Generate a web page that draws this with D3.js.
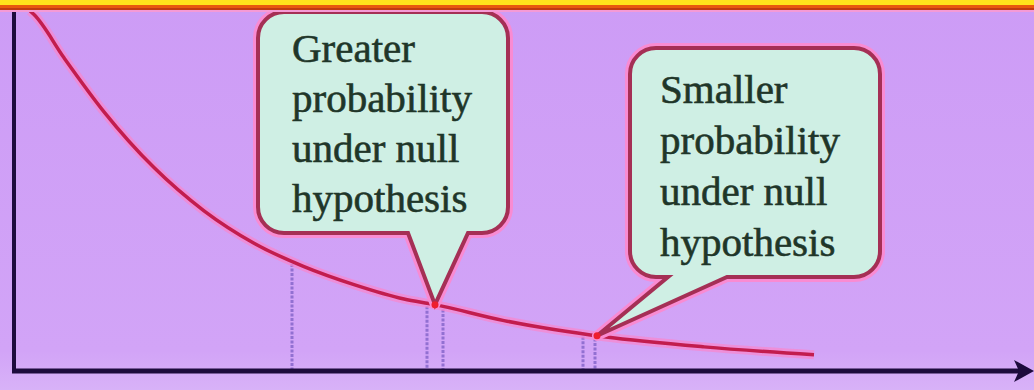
<!DOCTYPE html>
<html>
<head>
<meta charset="utf-8">
<script src="https://cdn.jsdelivr.net/npm/d3@7"></script>
<style>
  body { margin: 0; background: #cf9df5; }
  svg { display: block; }
</style>
</head>
<body>
<svg width="1034" height="390"></svg>
<script>
var svg = d3.select("svg"),
    width = +svg.attr("width"),
    height = +svg.attr("height");

// density curve (test statistic, density)
const curveX = [0.16, 0.2, 0.5, 0.9, 1.4, 1.9, 2.4, 2.9, 3.4, 3.9, 4.2, 4.9, 5.4, 5.9, 6.9, 8.0];
const curveY = [1.0, 0.99, 0.87, 0.72, 0.565, 0.445, 0.355, 0.29, 0.24, 0.2, 0.185, 0.14, 0.115, 0.095, 0.067, 0.045];

// observed values marked with dotted drop lines
const markerX = [2.78, 4.13, 4.29, 5.69, 5.81];

// callouts: where each one points on the x axis and its text
const calloutTipX = [4.21, 5.83];
const calloutLines = [
  ["Greater", "probability", "under null", "hypothesis"],
  ["Smaller", "probability", "under null", "hypothesis"]
];

let margin = { left: 14, top: 11, bottom: 19 };

var x = d3.scaleLinear()
    .domain([0, 10])
    .range([margin.left, margin.left + 1000]);

var y = d3.scaleLinear()
    .domain([0, 1])
    .range([height - margin.bottom, margin.top]);

var points = curveX.map((d, i) => [d, curveY[i]]);

// height of the curve at any x, straight between read points
function curveAt(v) {
  var i = d3.bisectRight(curveX, v);
  if (i <= 0) return curveY[0];
  if (i >= curveX.length) return curveY[curveY.length - 1];
  var t = (v - curveX[i - 1]) / (curveX[i] - curveX[i - 1]);
  return curveY[i - 1] + t * (curveY[i] - curveY[i - 1]);
}

// background, a little lighter under the axis
var defs = svg.append("defs");
var bg = defs.append("linearGradient")
    .attr("id", "bg")
    .attr("x1", 0).attr("y1", 0).attr("x2", 0).attr("y2", 1);
bg.append("stop").attr("offset", "0%").attr("stop-color", "#cd9cf6");
bg.append("stop").attr("offset", "90%").attr("stop-color", "#d2a4f7");
bg.append("stop").attr("offset", "100%").attr("stop-color", "#d8b2f8");

svg.append("rect")
    .attr("width", width)
    .attr("height", height)
    .attr("fill", "url(#bg)");

// dotted drop lines from the curve to the axis
svg.append("g")
    .selectAll("line")
    .data(markerX)
    .enter().append("line")
      .attr("x1", d => x(d))
      .attr("x2", d => x(d))
      .attr("y1", d => y(curveAt(d)) + 3)
      .attr("y2", y(0))
      .attr("stroke", "#9270d2")
      .attr("stroke-width", 3)
      .attr("stroke-dasharray", "3,1.5");

// the curve, pink glow under a crimson line
var line = d3.line()
    .x(d => x(d[0]))
    .y(d => y(d[1]))
    .curve(d3.curveMonotoneX);

svg.append("path")
    .datum(points)
    .attr("d", line)
    .attr("fill", "none")
    .attr("stroke", "#fa86cc")
    .attr("stroke-width", 9)
    .attr("stroke-opacity", 0.7);

svg.append("path")
    .datum(points)
    .attr("d", line)
    .attr("fill", "none")
    .attr("stroke", "#c21d4e")
    .attr("stroke-width", 3.5);

// axes
var axisColor = "#1d0b3d";
svg.append("line")
    .attr("x1", x(0)).attr("x2", x(0))
    .attr("y1", 8).attr("y2", y(0) + 2)
    .attr("stroke", axisColor)
    .attr("stroke-width", 4);

svg.append("line")
    .attr("x1", x(0) - 2).attr("x2", width - 8)
    .attr("y1", y(0)).attr("y2", y(0))
    .attr("stroke", axisColor)
    .attr("stroke-width", 5);

svg.append("path")
    .attr("d", "M" + (width - 20) + "," + (y(0) - 11) +
               "L" + width + "," + y(0) +
               "L" + (width - 20) + "," + (y(0) + 11) +
               "L" + (width - 15) + "," + y(0) + "Z")
    .attr("fill", axisColor);

// callouts
var boxes = [
  { x0: 258, y0: 12, x1: 508, y1: 233, b0: 408, b1: 468, tx: 292, lh: 50, base: 62 },
  { x0: 630, y0: 48, x1: 880, y1: 277, b0: 668, b1: 727, tx: 660, lh: 51, base: 103 }
];

function calloutPath(b, tipX, tipY) {
  var r = 26;
  return "M" + (b.x0 + r) + "," + b.y0 +
    "H" + (b.x1 - r) +
    "A" + r + "," + r + " 0 0 1 " + b.x1 + "," + (b.y0 + r) +
    "V" + (b.y1 - r) +
    "A" + r + "," + r + " 0 0 1 " + (b.x1 - r) + "," + b.y1 +
    "H" + b.b1 +
    "L" + tipX + "," + tipY +
    "L" + b.b0 + "," + b.y1 +
    "H" + (b.x0 + r) +
    "A" + r + "," + r + " 0 0 1 " + b.x0 + "," + (b.y1 - r) +
    "V" + (b.y0 + r) +
    "A" + r + "," + r + " 0 0 1 " + (b.x0 + r) + "," + b.y0 + "Z";
}

var callout = svg.append("g")
    .selectAll("g")
    .data(boxes)
    .enter().append("g");

callout.each(function(b, i) {
  var g = d3.select(this);
  var tipX = x(calloutTipX[i]),
      tipY = y(curveAt(calloutTipX[i]));
  var d = calloutPath(b, tipX, tipY);

  g.append("path").attr("d", d)
      .attr("fill", "none")
      .attr("stroke", "#f98bd2")
      .attr("stroke-width", 10)
      .attr("stroke-linejoin", "round");
  g.append("path").attr("d", d)
      .attr("fill", "#cfefe4")
      .attr("stroke", "#a52f55")
      .attr("stroke-width", 4)
      .attr("stroke-linejoin", "miter");

  g.append("circle")
      .attr("cx", tipX).attr("cy", tipY)
      .attr("r", 3.5)
      .attr("fill", "#ee1e2e");

  g.append("text")
      .attr("font-family", "'Liberation Serif', 'Times New Roman', serif")
      .attr("font-size", "41px")
      .attr("fill", "#1f3629")
      .attr("stroke", "#1f3629")
      .attr("stroke-width", 0.6)
      .selectAll("tspan")
      .data(calloutLines[i])
      .enter().append("tspan")
        .attr("x", b.tx)
        .attr("y", (t, j) => b.base + j * b.lh)
        .text(t => t);
});

// banner edge across the top
svg.append("rect").attr("x", 0).attr("y", 0).attr("width", width).attr("height", 12).attr("fill", "#f59ad6");
svg.append("rect").attr("x", 0).attr("y", 0).attr("width", width).attr("height", 10).attr("fill", "#c03a12");
svg.append("rect").attr("x", 0).attr("y", 0).attr("width", width).attr("height", 8).attr("fill", "#e8580e");
svg.append("rect").attr("x", 0).attr("y", 0).attr("width", width).attr("height", 5).attr("fill", "#ffe21c");
</script>
</body>
</html>
